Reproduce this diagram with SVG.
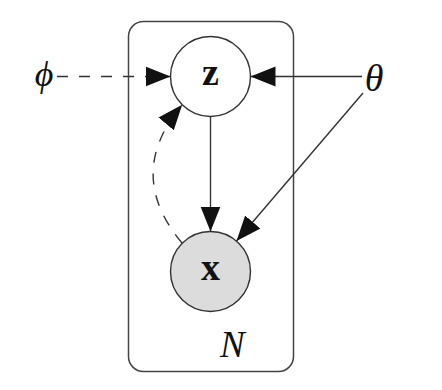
<svg xmlns="http://www.w3.org/2000/svg" width="442" height="390" viewBox="0 0 442 390">
<style>
.edge{fill:none;stroke:#333;stroke-width:1.4}
.dash{stroke-dasharray:11 11}
.node{stroke:#333;stroke-width:1.4}
.lbl{font-family:"Liberation Serif","DejaVu Serif",serif;fill:#111}
</style>
<defs>
<marker id="arr" markerUnits="userSpaceOnUse" markerWidth="28" markerHeight="22" refX="25" refY="10" orient="auto">
<path d="M0,0 L25,10 L0,20 z" fill="#111"/>
</marker>
</defs>
<rect width="442" height="390" fill="#fff"/>
<g id="plate">
<rect x="128.5" y="21.5" width="165" height="350" rx="15" fill="none" stroke="#444" stroke-width="1.5"/>
<text class="lbl" x="220" y="357" font-size="37" font-style="italic">N</text>
</g>
<g id="connectors">
<line class="edge dash" x1="57" y1="76.5" x2="170.5" y2="76.5" marker-end="url(#arr)"/>
<line class="edge" x1="362" y1="76.5" x2="250.5" y2="76.5" marker-end="url(#arr)"/>
<line class="edge" x1="210.5" y1="116.5" x2="210.5" y2="231.5" marker-end="url(#arr)"/>
<line class="edge" x1="363" y1="93" x2="236.5" y2="241" marker-end="url(#arr)"/>
<path class="edge dash" d="M182.2,243.2 Q124,174 182.2,104.8" marker-end="url(#arr)"/>
</g>
<g id="node-z">
<circle class="node" cx="210.5" cy="76.5" r="40" fill="#fff"/>
<text class="lbl" x="210.5" y="85" font-size="38" font-weight="bold" text-anchor="middle">z</text>
</g>
<g id="node-x">
<circle class="node" cx="210.5" cy="271.5" r="40" fill="#dcdcdc"/>
<text class="lbl" x="210.5" y="280" font-size="38" font-weight="bold" text-anchor="middle">x</text>
</g>
<g id="node-phi">
<text class="lbl" x="44" y="86" font-size="36" font-style="italic" text-anchor="middle">ϕ</text>
</g>
<g id="node-theta">
<text class="lbl" x="374" y="91" font-size="38" font-style="italic" text-anchor="middle">θ</text>
</g>
</svg>
